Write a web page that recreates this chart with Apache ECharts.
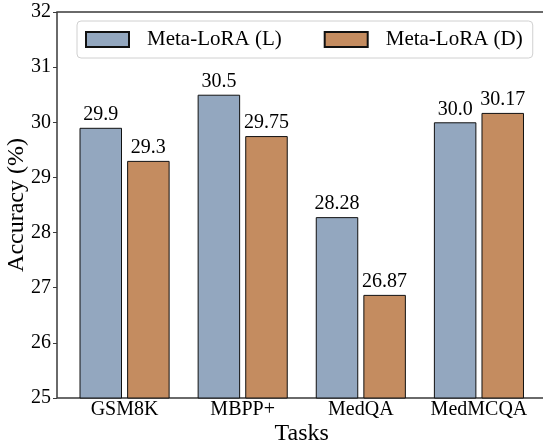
<!DOCTYPE html>
<html>
<head>
<meta charset="utf-8">
<script src="https://cdn.jsdelivr.net/npm/echarts@6/dist/echarts.min.js"></script>
<style>
  html, body { margin: 0; padding: 0; background: #fff; }
  #chart { width: 543px; height: 444px; }
</style>
</head>
<body>
<div id="chart"></div>
<script>
// data
var tasks = ['GSM8K', 'MBPP+', 'MedQA', 'MedMCQA'];
var metaLoraL = [29.9, 30.5, 28.28, 30.0];
var metaLoraD = [29.3, 29.75, 26.87, 30.17];
var yTicks = [25, 26, 27, 28, 29, 30, 31, 32];

var FONT = '"Liberation Serif", "DejaVu Serif", serif';

function fmt(v) {
    // 30.0 is written with one decimal in the original
    return Number.isInteger(v) ? v.toFixed(1) : String(v);
}

var chart = echarts.init(document.getElementById('chart'));

var option = {
    animation: false,
    textStyle: { fontFamily: FONT },
    grid: [
        // outer frame + y axis
        { left: 57, right: -4, top: 12, bottom: 46, outerBoundsMode: 'none', show: true, borderColor: '#3a3a3a', borderWidth: 1.5, backgroundColor: 'transparent' },
        // inner grid where the bars live
        { left: 65.5, right: 5, top: 12, bottom: 46, outerBoundsMode: 'none' }
    ],
    legend: {
        left: 77,
        top: 21,
        padding: [8, 10, 8, 8],
        icon: 'rect',
        itemWidth: 43,
        itemHeight: 15,
        itemGap: 42,
        backgroundColor: '#fff',
        borderColor: '#d0d0d0',
        borderWidth: 1,
        borderRadius: 4,
        textStyle: { fontFamily: FONT, fontSize: 21, color: '#000', padding: [0, 0, 0, 13] },
        data: ['Meta-LoRA (L)', 'Meta-LoRA (D)']
    },
    xAxis: [
        { gridIndex: 0, type: 'value', show: false, min: 0, max: 1 },
        {
            gridIndex: 1,
            type: 'category',
            data: tasks,
            axisLine: { show: false },
            axisTick: { show: false },
            axisLabel: { fontFamily: FONT, fontSize: 20, color: '#000', margin: 2, interval: 0 },
            name: 'Tasks',
            nameLocation: 'middle',
            nameGap: 24,
            nameMoveOverlap: false,
            nameTextStyle: { fontFamily: FONT, fontSize: 24, color: '#000' }
        }
    ],
    yAxis: [
        {
            gridIndex: 0,
            type: 'value',
            min: yTicks[0],
            max: yTicks[yTicks.length - 1],
            interval: 1,
            axisLine: { show: false },
            axisTick: { show: true, length: 4, lineStyle: { color: '#3a3a3a', width: 1 } },
            axisLabel: { fontFamily: FONT, fontSize: 20, color: '#000', margin: 6 },
            splitLine: { show: false },
            name: 'Accuracy (%)',
            nameLocation: 'middle',
            nameGap: 28,
            nameMoveOverlap: false,
            nameTextStyle: { fontFamily: FONT, fontSize: 24, color: '#000' }
        },
        {
            gridIndex: 1,
            type: 'value',
            min: yTicks[0],
            max: yTicks[yTicks.length - 1],
            show: false
        }
    ],
    series: [
        {
            name: 'Meta-LoRA (L)',
            type: 'bar',
            xAxisIndex: 1,
            yAxisIndex: 1,
            data: metaLoraL,
            barWidth: 42.5,
            barGap: '12%',
            itemStyle: { color: '#93A7BF', borderColor: '#111', borderWidth: 1 },
            label: {
                show: true, position: 'top', distance: 3,
                fontFamily: FONT, fontSize: 20, color: '#000',
                formatter: function(p) { return fmt(p.value); }
            }
        },
        {
            name: 'Meta-LoRA (D)',
            type: 'bar',
            xAxisIndex: 1,
            yAxisIndex: 1,
            data: metaLoraD,
            barWidth: 42.5,
            barGap: '12%',
            itemStyle: { color: '#C48C60', borderColor: '#111', borderWidth: 1 },
            label: {
                show: true, position: 'top', distance: 3,
                fontFamily: FONT, fontSize: 20, color: '#000',
                formatter: function(p) { return fmt(p.value); }
            }
        }
    ]
};

chart.setOption(option);
</script>
</body>
</html>
